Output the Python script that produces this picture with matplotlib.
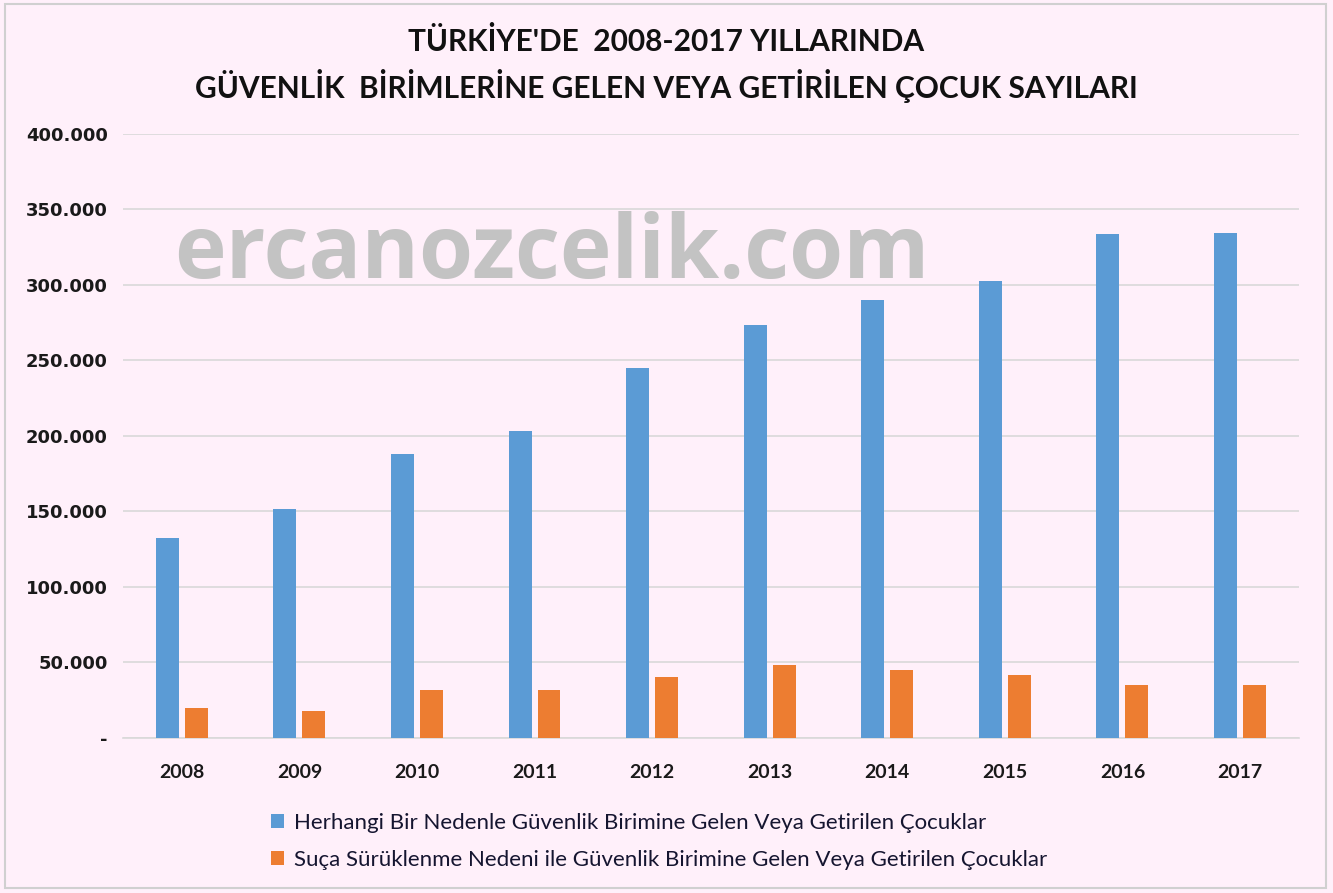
import matplotlib.pyplot as plt
import numpy as np
from matplotlib.patches import Rectangle
from matplotlib.ticker import FuncFormatter

years = ["2008", "2009", "2010", "2011", "2012", "2013", "2014", "2015", "2016", "2017"]
herhangi = [132500, 151700, 188100, 203300, 245000, 273500, 290000, 302700, 333800, 334400]
suca = [19900, 17900, 31800, 31800, 40400, 48300, 45000, 41700, 35100, 35100]

series_names = [
    "Herhangi Bir Nedenle Güvenlik Birimine Gelen Veya Getirilen Çocuklar",
    "Suça Sürüklenme Nedeni ile Güvenlik Birimine Gelen Veya Getirilen Çocuklar",
]
title = "TÜRKİYE'DE  2008-2017 YILLARINDA\nGÜVENLİK  BİRİMLERİNE GELEN VEYA GETİRİLEN ÇOCUK SAYILARI"

bg = "#FFF0FA"
blue = "#5B9BD5"
orange = "#ED7D31"
narrow = ["Lato", "DejaVu Sans"]

fig = plt.figure(figsize=(13.33, 8.93), dpi=100, facecolor=bg)
ax = fig.add_axes([0.0923, 0.1736, 0.882, 0.6764])
ax.set_facecolor(bg)

x = np.arange(len(years))
w = 0.195
ax.bar(x - 0.123, herhangi, width=w, color=blue, label=series_names[0], zorder=3)
ax.bar(x + 0.123, suca, width=w, color=orange, label=series_names[1], zorder=3)

ax.set_xlim(-0.5, len(years) - 0.5)
ax.set_ylim(0, 400000)
ax.set_yticks(np.arange(0, 400001, 50000))


def fmt(v, pos):
    if v == 0:
        return "-"
    return f"{int(v):,}".replace(",", ".")


ax.yaxis.set_major_formatter(FuncFormatter(fmt))
ax.set_xticks(x)
ax.set_xticklabels(years)
ax.grid(axis="y", color="#D9D9D9", linewidth=1.2, zorder=0)
for s in ["top", "right", "left"]:
    ax.spines[s].set_visible(False)
ax.spines["bottom"].set_color("#D9D9D9")
ax.spines["bottom"].set_linewidth(1.2)
ax.tick_params(axis="both", length=0)
ax.tick_params(axis="y", pad=11)
ax.tick_params(axis="x", pad=19)
for lab in ax.get_yticklabels():
    lab.set_fontweight("bold")
    lab.set_fontsize(13)
    lab.set_color("#1a1a1a")
for lab in ax.get_xticklabels():
    lab.set_fontweight("bold")
    lab.set_fontsize(14)
    lab.set_family(narrow)
    lab.set_color("#1a1a1a")

# watermark
fig.text(0.131, 0.715, "ercanozcelik.com", fontsize=63, color="#C3C3C3",
         fontweight="bold", family=["Open Sans", "DejaVu Sans"], ha="left", va="center")

fig.text(0.5, 0.927, title, ha="center", va="center", fontsize=21.5,
         fontweight="bold", family=narrow, linespacing=1.45, color="#111111")

leg = fig.legend(loc="upper left", bbox_to_anchor=(0.188, 0.112), frameon=False,
                 prop={"family": narrow, "size": 16}, handlelength=0.6, handleheight=0.6,
                 handletextpad=0.45, labelspacing=0.75)
for t in leg.get_texts():
    t.set_color("#151530")

fig.patches.append(Rectangle((0.004, 0.006), 0.991, 0.99, transform=fig.transFigure,
                             fill=False, edgecolor="#D0D0D0", linewidth=1.5))

fig.savefig("out.png", dpi=100, facecolor=bg)
